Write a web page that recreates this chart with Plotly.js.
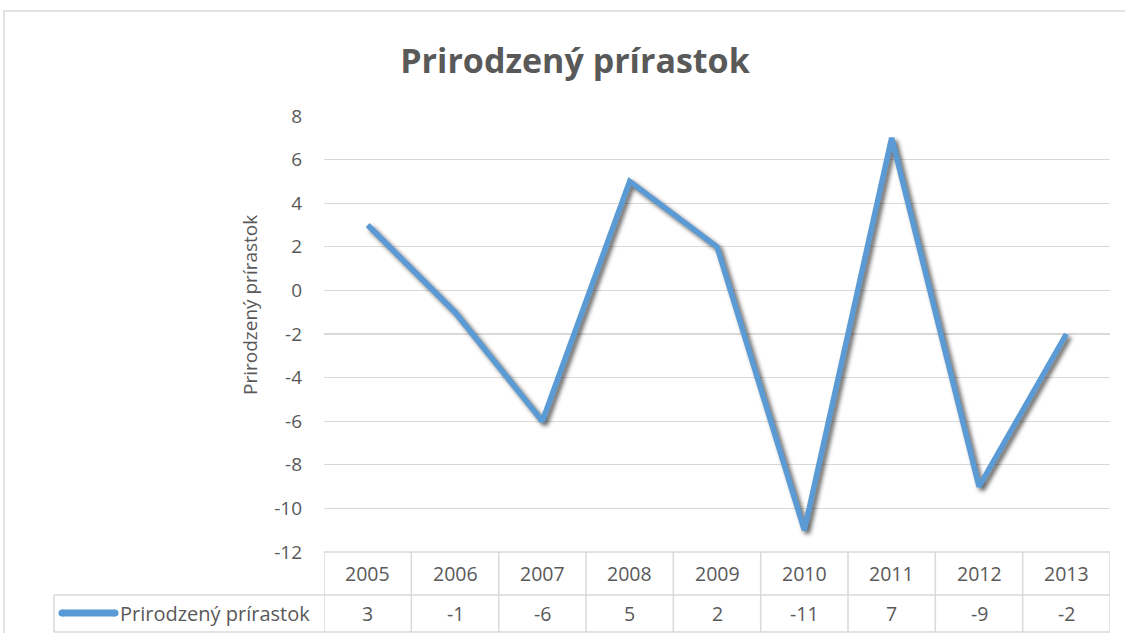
<!DOCTYPE html>
<html>
<head>
<meta charset="utf-8">
<script src="https://cdn.plot.ly/plotly-3.0.1.min.js"></script>
<style>
html,body{margin:0;padding:0;background:#fff;}
#chart{width:1125px;height:633px;}
#chart .scatterlayer .trace path.js-line{filter:drop-shadow(3px 3px 2px rgba(0,0,0,0.6));}
</style>
</head>
<body>
<div id="chart"></div>
<script>
const years = ['2005','2006','2007','2008','2009','2010','2011','2012','2013'];
const values = [3, -1, -6, 5, 2, -11, 7, -9, -2];
const yTickVals = [-12, -10, -8, -6, -4, -2, 0, 2, 4, 6, 8];
const yTickText = ['-12', '-10', '-8', '-6', '-4', '-2', '0', '2', '4', '6', '8'];
const seriesName = 'Prirodzený prírastok';
const chartTitle = 'Prirodzený prírastok';
const yTitle = 'Prirodzený prírastok';

const W = 1125, H = 633;
const L = 324, R = 15, T = 116, B = 81;
const plotW = W - L - R, plotH = H - T - B;
const font = 'Open Sans, Noto Sans, sans-serif';
const grey = '#595959';
const gridC = '#d9d9d9';

const py = p => (H - B - p) / plotH;
const px = p => (p - L) / plotW;

const rowTop = 0, rowMid = py(595), rowBot = py(632);
const legendLeft = px(54);

const shapes = [];
shapes.push({type:'rect', xref:'paper', yref:'paper', x0:px(4), x1:px(1130), y0:py(640), y1:py(11),
  line:{color:gridC, width:1.5}, fillcolor:'rgba(0,0,0,0)', layer:'below'});
shapes.push({type:'line', xref:'paper', yref:'paper', x0:0, x1:1, y0:rowTop, y1:rowTop, line:{color:gridC, width:1.5}});
shapes.push({type:'line', xref:'paper', yref:'paper', x0:legendLeft, x1:1, y0:rowMid, y1:rowMid, line:{color:gridC, width:1.5}});
shapes.push({type:'line', xref:'paper', yref:'paper', x0:legendLeft, x1:1, y0:rowBot, y1:rowBot, line:{color:gridC, width:1.5}});
shapes.push({type:'line', xref:'paper', yref:'paper', x0:legendLeft, x1:legendLeft, y0:rowMid, y1:rowBot, line:{color:gridC, width:1.5}});
for (let i = 0; i <= years.length; i++) {
  shapes.push({type:'line', xref:'x', yref:'paper', x0:i-0.5, x1:i-0.5, y0:rowTop, y1:rowBot, line:{color:gridC, width:1.5}});
}
shapes.push({type:'line', xref:'paper', yref:'paper', x0:px(62), x1:px(115), y0:py(613), y1:py(613),
  line:{color:'#5b9bd5', width:7}});
[62, 115].forEach(cx => shapes.push({type:'circle', xref:'paper', yref:'paper', x0:px(cx-3.5), x1:px(cx+3.5),
  y0:py(613+3.5), y1:py(613-3.5), fillcolor:'#5b9bd5', line:{width:0}}));

const annotations = [];
years.forEach((y, i) => {
  annotations.push({xref:'x', yref:'paper', x:i, y:(rowTop+rowMid)/2, text:y, showarrow:false,
    font:{family:font, size:19.5, color:grey}, xanchor:'center', yanchor:'middle'});
  annotations.push({xref:'x', yref:'paper', x:i, y:(rowMid+rowBot)/2, text:String(values[i]), showarrow:false,
    font:{family:font, size:19.5, color:grey}, xanchor:'center', yanchor:'middle'});
});
annotations.push({xref:'paper', yref:'paper', x:px(118), y:(rowMid+rowBot)/2, text:seriesName, showarrow:false,
  font:{family:font, size:20, color:grey}, xanchor:'left', yanchor:'middle'});
// y-axis title
annotations.push({xref:'paper', yref:'paper', x:px(250), y:py(305), text:yTitle, textangle:-90, showarrow:false,
  font:{family:font, size:19, color:grey}, xanchor:'center', yanchor:'middle'});

const trace = {
  type:'scatter', mode:'lines', x:years.map((_, i) => i), y:values, name:seriesName,
  line:{color:'#5b9bd5', width:5.5, shape:'linear'}, hoverinfo:'x+y'
};

const layout = {
  width:W, height:H,
  margin:{l:L, r:R, t:T, b:B, pad:0},
  paper_bgcolor:'#ffffff', plot_bgcolor:'#ffffff',
  showlegend:false,
  title:{text:'<b>'+chartTitle+'</b>', font:{family:font, size:34, color:grey},
    x:575/W, xanchor:'center', y:1-61/H, yanchor:'middle'},
  xaxis:{range:[-0.5, years.length-0.5], showticklabels:false, showgrid:false, zeroline:false,
    showline:false, ticks:'', fixedrange:true},
  yaxis:{range:[-12, 8], tickmode:'array', tickvals:yTickVals, ticktext:yTickText,
    showgrid:true, gridcolor:gridC, gridwidth:1.3,
    zeroline:true, zerolinecolor:gridC, zerolinewidth:1.3, showline:false, ticks:'',
    ticklabelstandoff:21,
    tickfont:{family:font, size:19, color:grey}},
  shapes:shapes, annotations:annotations
};

Plotly.newPlot('chart', [trace], layout, {displayModeBar:false, staticPlot:true});
</script>
</body>
</html>
